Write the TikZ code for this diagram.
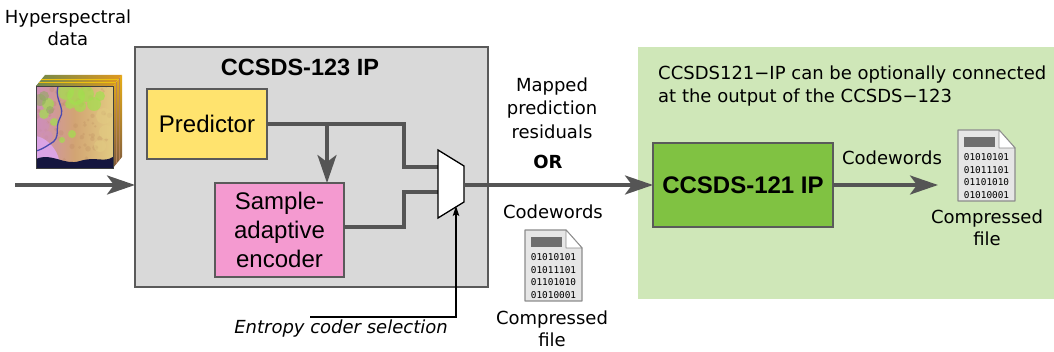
\documentclass[tikz,border=0pt]{standalone}
\usepackage{fontspec}
\setmainfont{DejaVu Sans}
\newfontfamily\blockfont{Liberation Sans}
\newfontfamily\binfont{DejaVu Sans Mono}
\usetikzlibrary{arrows.meta,calc}

\definecolor{boxgray}{HTML}{D9D9D9}
\definecolor{edgegray}{HTML}{5A5A5A}
\definecolor{wiregray}{HTML}{555555}
\definecolor{predyellow}{HTML}{FFE36E}
\definecolor{encpink}{HTML}{F49AD0}
\definecolor{optgreen}{HTML}{CFE7B8}
\definecolor{ipgreen}{HTML}{80C242}
\definecolor{docfill}{HTML}{E6E6E6}
\definecolor{docedge}{HTML}{8C8C8C}
\definecolor{docbar}{HTML}{6E6E6E}
% colours of the hyperspectral cube
\definecolor{cubetan}{HTML}{D2A473}
\definecolor{cubebrown}{HTML}{B5825A}
\definecolor{cubepink}{HTML}{CE8FB8}
\definecolor{cubegreen}{HTML}{A2E04E}
\definecolor{cubelav}{HTML}{DDA6EC}
\definecolor{cubenavy}{HTML}{15163F}
\definecolor{cuberiver}{HTML}{4A4AB0}
\definecolor{cubeyellow}{HTML}{E2CB82}
\definecolor{cubeolive}{HTML}{8EAA5E}
\definecolor{cubeorange}{HTML}{E0981E}

\tikzset{
  lbl/.style={font=\fontsize{18}{22.5}\selectfont, align=center, inner sep=0pt},
  block/.style={draw=edgegray, line width=1.5pt, inner sep=0pt, outer sep=0pt},
  blocktext/.style={font=\blockfont\fontsize{24}{29}\selectfont, align=center},
  wire/.style={draw=wiregray, line width=3.5pt},
  wirearrow/.style={wire, -{Stealth[length=28pt,width=19pt,inset=7pt]}},
  selwire/.style={draw=black, line width=1.1pt, -{Stealth[length=10pt,width=6.5pt,inset=2pt]}},
  docfile/.pic={
    \draw[draw=docedge, fill=docfill, line width=1.2pt, line join=round]
      (0,0) -- (41,0) -- (57,18) -- (57,71) -- (0,71) -- cycle;
    \draw[draw=docedge, fill=white, line width=0.8pt, line join=round]
      (41,0) -- (57,18) -- (41,18) -- cycle;
    \fill[docbar] (6,7) rectangle (37,17);
    \foreach \bits [count=\i] in {01010101,01011101,01101010,01010001}
      \node[font=\binfont\fontsize{9.4}{10}\selectfont, inner sep=0pt] at (28.5,14.5+12.6*\i) {\bits};
  },
  speck/.style={opacity=.22}
}

\begin{document}
\begin{tikzpicture}[x=1pt, y=-1pt]
\useasboundingbox (0,0) rectangle (1054,352);

% optional CCSDS-121 region
\fill[optgreen] (638,47) rectangle (1054,299);

% CCSDS-123 core and its blocks
\node[block, fill=boxgray, minimum width=353pt, minimum height=240pt] (ip123) at (311.5,167) {};
\node[font=\blockfont\bfseries\fontsize{23.5}{28}\selectfont] (title123) at (300,67) {CCSDS-123 IP};
\node[block, fill=predyellow, minimum width=120pt, minimum height=70pt, blocktext] (pred) at (207,124) {Predictor};
\node[block, fill=encpink, minimum width=129pt, minimum height=94pt, blocktext] (enc) at (279.5,230) {Sample-\\adaptive\\encoder};

% CCSDS-121 block
\node[block, fill=ipgreen, minimum width=180pt, minimum height=84pt] (ip121) at (743,185) {};
\node[font=\blockfont\bfseries\fontsize{24}{29}\selectfont] at (ip121) {CCSDS-121 IP};

% multiplexer
\coordinate (muxin1) at (438,167);
\coordinate (muxin2) at (438,192);
\coordinate (muxout) at (464,185);
\coordinate (muxsel) at (456,206);
\coordinate (tap) at (327,124);

% wires inside the core
\draw[wire] (pred.east) -- (404,124) |- (muxin1);
\draw[wirearrow] (tap) -- (tap |- enc.north);
\draw[wire] (enc.east |- 0,227) -- (404,227) |- (muxin2);

\filldraw[fill=white, draw=black, line width=1.3pt, line join=miter]
  (438,150) -- (464,166) -- (464,202) -- (438,218) -- cycle;

% input and output wires
\coordinate (src) at (15,185);
\draw[wirearrow] (src) -- (ip123.west |- src);
\draw[wirearrow] (muxout) -- (ip121.west |- muxout);
\coordinate (outend) at (938,185);
\draw[wirearrow] (ip121.east) -- (outend);

% entropy coder selection
\coordinate (selstart) at (310,317);
\draw[selwire] (selstart) -- (muxsel |- selstart) -- (muxsel);
\node[lbl, font=\itshape\fontsize{18}{22}\selectfont] (seltext) at (341,329) {Entropy coder selection};

% hyperspectral cube: front face
\begin{scope}
  \clip (36,86) rectangle (113,168);
  \shade[left color=cubepink, right color=cubeyellow, middle color=cubetan] (36,86) rectangle (113,168);
  \pgfmathsetseed{11}
  \foreach \k in {1,...,70}{
    \pgfmathsetmacro\px{36+77*rnd}
    \pgfmathsetmacro\py{86+76*rnd}
    \pgfmathsetmacro\rr{1+2*rnd}
    \fill[cubebrown, speck] (\px,\py) circle [radius=\rr pt];
  }
  \foreach \px/\py/\rr in {66/92/8,76/96/9,86/94/8,94/104/7,80/106/6,70/104/5,100/96/5,48/104/6,44/114/5,54/122/4,72/134/4,62/140/3}
    \fill[cubegreen, opacity=.7] (\px,\py) circle [radius=\rr pt];
  \foreach \px/\py/\rr in {40/100/6,44/96/5,50/110/4}
    \fill[cubeolive, opacity=.55] (\px,\py) circle [radius=\rr pt];
  \foreach \px/\py/\rr in {104/116/8,106/132/7,100/146/6}
    \fill[cubeyellow, opacity=.55] (\px,\py) circle [radius=\rr pt];
  \foreach \px/\py/\rr in {42/126/7,48/136/5}
    \fill[cubepink, opacity=.6] (\px,\py) circle [radius=\rr pt];
  \fill[cubelav, opacity=.9] (36,136) .. controls (46,138) and (54,146) .. (58,156)
    .. controls (60,162) and (60,166) .. (60,168) -- (36,168) -- cycle;
  \fill[cubenavy] (36,168) -- (36,159) .. controls (52,152) and (64,166) .. (80,161)
    .. controls (95,156) and (104,163) .. (113,157) -- (113,168) -- cycle;
  \draw[cuberiver, line width=1.3pt] (58,86) .. controls (54,100) and (66,108) .. (60,118)
    .. controls (54,128) and (62,138) .. (50,144) .. controls (44,148) and (40,150) .. (36,151);
\end{scope}
% top and side faces
\shade[left color=cubeolive!80!black, right color=cubeorange] (36,86) -- (45,75) -- (122,75) -- (113,86) -- cycle;
\foreach \t in {0.3,0.6}
  \draw[cubeorange!60!yellow, line width=1pt] ($(36,86)!\t!(45,75)$) -- ($(113,86)!\t!(122,75)$);
\shade[top color=cubeorange!80!yellow, bottom color=cubebrown!70!black] (113,86) -- (122,75) -- (122,157) -- (113,168) -- cycle;
\foreach \t in {0.35,0.7}
  \draw[cubebrown, line width=0.9pt] ($(113,86)!\t!(122,75)$) -- ($(113,168)!\t!(122,157)$);
\draw[black!75, line width=0.6pt] (36,86) rectangle (113,168);

% labels
\node[lbl] (hsd) at (68,28) {Hyperspectral\\data};
\node[lbl, font=\fontsize{18}{23.5}\selectfont] (mapped) at (552,108) {Mapped\\prediction\\residuals};
\node[lbl, font=\bfseries\fontsize{18}{22}\selectfont] (ortext) at (548,162) {OR};
\node[lbl, align=left, anchor=west, font=\fontsize{18}{22.5}\selectfont] (note) at (658,86)
  {CCSDS121−IP can be optionally connected\\at the output of the CCSDS−123};

% compressed files
\node[lbl] (cw1) at (553,212) {Codewords};
\pic at (525,230) {docfile};
\node[lbl] (cf1) at (552,329) {Compressed\\file};

\node[lbl] (cw2) at (892,158) {Codewords};
\pic at (958,130) {docfile};
\node[lbl] (cf2) at (987,228) {Compressed\\file};
\end{tikzpicture}
\end{document}
